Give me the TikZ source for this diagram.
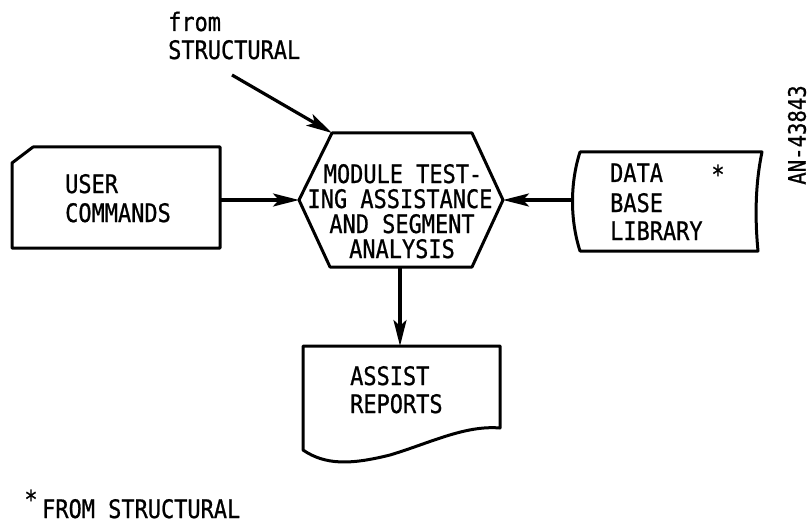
\documentclass[tikz,border=0pt]{standalone}
\usepackage{fontspec}
\newfontfamily\lgfont{DejaVu Sans Mono}[FakeStretch=0.86,FakeBold=0.8]
\usetikzlibrary{arrows.meta}
\begin{document}
\begin{tikzpicture}[x=1pt,y=-1pt,
  shapeline/.style={line width=3pt, line join=round},
  conn/.style={line width=3.2pt, -{Stealth[length=26pt,width=13pt,inset=6pt]}},
  lbl/.style={font=\lgfont\fontsize{25.5}{28}\selectfont, inner sep=0pt, anchor=base west},
  clbl/.style={font=\lgfont\fontsize{25.5}{28}\selectfont, inner sep=0pt, anchor=base},
]
\useasboundingbox (0,0) rectangle (811,524);
% hexagon
\draw[shapeline] (299,200) -- (332,133) -- (472,133) -- (503,200) -- (472,267) -- (330,267) -- cycle;
\coordinate (hexL) at (299,200);
\coordinate (hexR) at (503,200);
\coordinate (hexTL) at (332,133);
\coordinate (hexB) at (400,267);
\node[clbl] (h1) at (403,183) {MODULE TEST-};
\node[clbl] (h2) at (400,208) {ING ASSISTANCE};
\node[clbl] (h3) at (402,233) {AND SEGMENT};
\node[clbl] (h4) at (402,258) {ANALYSIS};
% user commands card
\draw[shapeline] (12,163) -- (33,147) -- (220,147) -- (220,248) -- (12,248) -- cycle;
\coordinate (ucR) at (220,200);
\node[lbl] (u1) at (65,193) {USER};
\node[lbl] (u2) at (65,222) {COMMANDS};
% data base library
\draw[shapeline] (580,152) -- (762,152) .. controls (755,185) and (755,220) .. (758,251)
  -- (580,251) .. controls (570,220) and (570,183) .. (580,152) -- cycle;
\coordinate (dbL) at (573,200);
\node[lbl] (d1) at (610,182) {DATA};
\node[lbl] (d2) at (610,212) {BASE};
\node[lbl] (d3) at (610,240) {LIBRARY};
\node[font=\lgfont\fontsize{25.5}{28}\selectfont, inner sep=0pt] (dstar) at (718,174) {*};
% assist reports
\draw[shapeline] (303,346) -- (500,346) -- (500,428)
  .. controls (465,425) and (430,443) .. (390,455)
  .. controls (350,465) and (325,465) .. (303,450) -- cycle;
\coordinate (arT) at (400,346);
\node[lbl] (a1) at (350,385) {ASSIST};
\node[lbl] (a2) at (350,413) {REPORTS};
% from structural
\node[lbl] (f1) at (168,31) {from};
\node[lbl] (f2) at (168,59) {STRUCTURAL};
\coordinate (fs) at (232,75);
% connectors
\draw[conn] (fs) -- (hexTL);
\draw[conn] (ucR) -- (hexL);
\draw[conn] (dbL) -- (hexR);
\draw[conn] (hexB) -- (arT);
% footnote
\node[font=\lgfont\fontsize{25.5}{28}\selectfont, inner sep=0pt] (fstar) at (31,499) {*};
\node[lbl] (fn) at (42,518) {FROM STRUCTURAL};
% id
\node[font=\lgfont\fontsize{24}{28}\selectfont, inner sep=0pt, rotate=90] (id) at (797,135) {AN-43843};
\end{tikzpicture}
\end{document}
